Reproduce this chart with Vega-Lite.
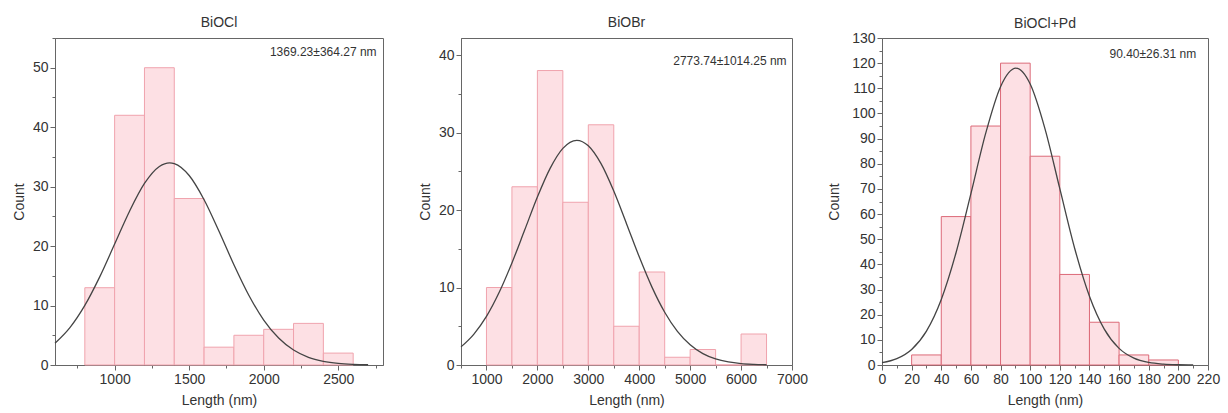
{
  "$schema": "https://vega.github.io/schema/vega-lite/v6.json",
  "padding": {"left": 11, "top": 15, "right": 2, "bottom": 2},
  "spacing": 33,
  "config": {
    "font": "Liberation Sans",
    "view": {"stroke": "#666", "strokeWidth": 1},
    "axis": {"labelFontSize": 14, "labelColor": "#333", "titleFontSize": 14, "titleFontWeight": "normal", "titleColor": "#333", "domainColor": "#666", "tickColor": "#666", "grid": false, "labelPadding": 2, "labelOverlap": false, "labelFlush": false, "format": "d", "tickSize": 5},
    "axisX": {"titlePadding": 7},
    "axisY": {"titlePadding": 6},
    "title": {"fontSize": 14, "fontWeight": "normal", "color": "#333", "offset": 8, "frame": "group"}
  },
  "datasets": {
    "bars1": [
      {"lo": 800, "hi": 1000, "count": 13}, {"lo": 1000, "hi": 1200, "count": 42}, {"lo": 1200, "hi": 1400, "count": 50},
      {"lo": 1400, "hi": 1600, "count": 28}, {"lo": 1600, "hi": 1800, "count": 3}, {"lo": 1800, "hi": 2000, "count": 5},
      {"lo": 2000, "hi": 2200, "count": 6}, {"lo": 2200, "hi": 2400, "count": 7}, {"lo": 2400, "hi": 2600, "count": 2}
    ],
    "curve1": [
      {"length": 600, "count": 3.65}, {"length": 700, "count": 6.28}, {"length": 800, "count": 10.02}, {"length": 900, "count": 14.82},
      {"length": 1000, "count": 20.34}, {"length": 1100, "count": 25.87}, {"length": 1200, "count": 30.53}, {"length": 1300, "count": 33.39},
      {"length": 1369, "count": 34.0}, {"length": 1400, "count": 33.88}, {"length": 1500, "count": 31.87}, {"length": 1600, "count": 27.8},
      {"length": 1700, "count": 22.49}, {"length": 1800, "count": 16.87}, {"length": 1900, "count": 11.74}, {"length": 2000, "count": 7.56},
      {"length": 2100, "count": 4.53}, {"length": 2200, "count": 2.51}, {"length": 2300, "count": 1.29}, {"length": 2400, "count": 0.62},
      {"length": 2500, "count": 0.27}, {"length": 2600, "count": 0.11}, {"length": 2700, "count": 0.04}
    ],
    "bars2": [
      {"lo": 1000, "hi": 1500, "count": 10}, {"lo": 1500, "hi": 2000, "count": 23}, {"lo": 2000, "hi": 2500, "count": 38},
      {"lo": 2500, "hi": 3000, "count": 21}, {"lo": 3000, "hi": 3500, "count": 31}, {"lo": 3500, "hi": 4000, "count": 5},
      {"lo": 4000, "hi": 4500, "count": 12}, {"lo": 4500, "hi": 5000, "count": 1}, {"lo": 5000, "hi": 5500, "count": 2},
      {"lo": 5500, "hi": 6000, "count": 0}, {"lo": 6000, "hi": 6500, "count": 4}
    ],
    "curve2": [
      {"length": 500, "count": 2.34}, {"length": 750, "count": 3.96}, {"length": 1000, "count": 6.27}, {"length": 1250, "count": 9.38},
      {"length": 1500, "count": 13.17}, {"length": 1750, "count": 17.41}, {"length": 2000, "count": 21.68}, {"length": 2250, "count": 25.38},
      {"length": 2500, "count": 27.96}, {"length": 2774, "count": 29.0}, {"length": 3000, "count": 28.29}, {"length": 3250, "count": 25.98},
      {"length": 3500, "count": 22.44}, {"length": 3750, "count": 18.24}, {"length": 4000, "count": 13.96}, {"length": 4250, "count": 10.05},
      {"length": 4500, "count": 6.81}, {"length": 4750, "count": 4.34}, {"length": 5000, "count": 2.61}, {"length": 5250, "count": 1.47},
      {"length": 5500, "count": 0.78}, {"length": 5750, "count": 0.39}, {"length": 6000, "count": 0.18}, {"length": 6250, "count": 0.08},
      {"length": 6500, "count": 0.03}
    ],
    "bars3": [
      {"lo": 20, "hi": 40, "count": 4}, {"lo": 40, "hi": 60, "count": 59}, {"lo": 60, "hi": 80, "count": 95},
      {"lo": 80, "hi": 100, "count": 120}, {"lo": 100, "hi": 120, "count": 83}, {"lo": 120, "hi": 140, "count": 36},
      {"lo": 140, "hi": 160, "count": 17}, {"lo": 160, "hi": 180, "count": 4}, {"lo": 180, "hi": 200, "count": 2}
    ],
    "curve3": [
      {"length": 0, "count": 0.92}, {"length": 10, "count": 2.53}, {"length": 20, "count": 6.2}, {"length": 30, "count": 13.49},
      {"length": 40, "count": 26.07}, {"length": 50, "count": 44.73}, {"length": 60, "count": 68.15}, {"length": 70, "count": 92.16},
      {"length": 80, "count": 110.65}, {"length": 90.4, "count": 118.0}, {"length": 100, "count": 111.7}, {"length": 110, "count": 93.9},
      {"length": 120, "count": 70.09}, {"length": 130, "count": 46.42}, {"length": 140, "count": 27.35}, {"length": 150, "count": 14.28},
      {"length": 160, "count": 6.62}, {"length": 170, "count": 2.73}, {"length": 180, "count": 1.0}, {"length": 190, "count": 0.32},
      {"length": 200, "count": 0.09}, {"length": 210, "count": 0.02}
    ]
  },
  "hconcat": [
    {
      "title": "BiOCl",
      "width": 328, "height": 327,
      "resolve": {"axis": {"x": "independent", "y": "independent"}},
      "layer": [
        {
          "data": {"name": "bars1"},
          "mark": {"type": "rect", "fill": "#fde0e4", "stroke": "#f0a3ad", "strokeWidth": 1},
          "encoding": {
            "x": {"field": "lo", "type": "quantitative", "scale": {"domain": [600, 2800], "nice": false, "zero": false},
                  "axis": {"title": "Length (nm)", "orient": "bottom", "values": [1000, 1500, 2000, 2500]}},
            "x2": {"field": "hi"},
            "y": {"field": "count", "type": "quantitative", "scale": {"domain": [0, 55], "nice": false},
                  "axis": {"title": "Count", "orient": "left", "values": [0, 10, 20, 30, 40, 50]}}
          }
        },
        {
          "data": {"name": "curve1"},
          "mark": {"type": "line", "color": "#444", "strokeWidth": 1.3, "interpolate": "monotone"},
          "encoding": {
            "x": {"field": "length", "type": "quantitative",
                  "axis": {"orient": "bottom", "title": null, "labels": false, "domain": false, "tickSize": 3, "values": [750, 1250, 1750, 2250, 2750]}},
            "y": {"field": "count", "type": "quantitative",
                  "axis": {"orient": "left", "title": null, "labels": false, "domain": false, "tickSize": 3, "values": [5, 15, 25, 35, 45, 55]}}
          }
        },
        {
          "data": {"values": [{"label": "1369.23±364.27 nm"}]},
          "mark": {"type": "text", "align": "right", "baseline": "middle", "fontSize": 12, "color": "#333"},
          "encoding": {
            "x": {"datum": 2757, "type": "quantitative", "axis": null},
            "y": {"datum": 52.7, "type": "quantitative", "axis": null},
            "text": {"field": "label"}
          }
        }
      ]
    },
    {
      "spacing": 18,
      "hconcat": [
        {
          "title": "BiOBr",
          "width": 331, "height": 327,
          "resolve": {"axis": {"x": "independent", "y": "independent"}},
          "layer": [
            {
              "data": {"name": "bars2"},
              "mark": {"type": "rect", "fill": "#fde0e4", "stroke": "#f0a3ad", "strokeWidth": 1},
              "encoding": {
                "x": {"field": "lo", "type": "quantitative", "scale": {"domain": [500, 7000], "nice": false, "zero": false},
                      "axis": {"title": "Length (nm)", "orient": "bottom", "values": [1000, 2000, 3000, 4000, 5000, 6000, 7000]}},
                "x2": {"field": "hi"},
                "y": {"field": "count", "type": "quantitative", "scale": {"domain": [0, 42.2], "nice": false},
                      "axis": {"title": "Count", "orient": "left", "values": [0, 10, 20, 30, 40]}}
              }
            },
            {
              "data": {"name": "curve2"},
              "mark": {"type": "line", "color": "#444", "strokeWidth": 1.3, "interpolate": "monotone"},
              "encoding": {
                "x": {"field": "length", "type": "quantitative",
                      "axis": {"orient": "bottom", "title": null, "labels": false, "domain": false, "tickSize": 3, "values": [500, 1500, 2500, 3500, 4500, 5500, 6500]}},
                "y": {"field": "count", "type": "quantitative",
                      "axis": {"orient": "left", "title": null, "labels": false, "domain": false, "tickSize": 3, "values": [5, 15, 25, 35]}}
              }
            },
            {
              "data": {"values": [{"label": "2773.74±1014.25 nm"}]},
              "mark": {"type": "text", "align": "right", "baseline": "middle", "fontSize": 12, "color": "#333"},
              "encoding": {
                "x": {"datum": 6894, "type": "quantitative", "axis": null},
                "y": {"datum": 39.2, "type": "quantitative", "axis": null},
                "text": {"field": "label"}
              }
            }
          ]
        },
        {
          "title": {"text": "BiOCl+Pd", "offset": 0},
          "width": 326, "height": 327,
          "resolve": {"axis": {"x": "independent", "y": "independent"}},
          "layer": [
            {
              "data": {"name": "bars3"},
              "mark": {"type": "rect", "fill": "#fde0e4", "stroke": "#dc6a78", "strokeWidth": 1},
              "encoding": {
                "x": {"field": "lo", "type": "quantitative", "scale": {"domain": [0, 220], "nice": false, "zero": false},
                      "axis": {"title": "Length (nm)", "orient": "bottom", "values": [0, 20, 40, 60, 80, 100, 120, 140, 160, 180, 200, 220]}},
                "x2": {"field": "hi"},
                "y": {"field": "count", "type": "quantitative", "scale": {"domain": [0, 130], "nice": false},
                      "axis": {"title": "Count", "orient": "left", "titlePadding": 10, "values": [0, 10, 20, 30, 40, 50, 60, 70, 80, 90, 100, 110, 120, 130]}}
              }
            },
            {
              "data": {"name": "curve3"},
              "mark": {"type": "line", "color": "#444", "strokeWidth": 1.3, "interpolate": "monotone"},
              "encoding": {
                "x": {"field": "length", "type": "quantitative",
                      "axis": {"orient": "bottom", "title": null, "labels": false, "domain": false, "tickSize": 3, "values": [10, 30, 50, 70, 90, 110, 130, 150, 170, 190, 210]}},
                "y": {"field": "count", "type": "quantitative",
                      "axis": {"orient": "left", "title": null, "labels": false, "domain": false, "tickSize": 3, "values": [5, 15, 25, 35, 45, 55, 65, 75, 85, 95, 105, 115, 125]}}
              }
            },
            {
              "data": {"values": [{"label": "90.40±26.31 nm"}]},
              "mark": {"type": "text", "align": "right", "baseline": "middle", "fontSize": 12, "color": "#333"},
              "encoding": {
                "x": {"datum": 212, "type": "quantitative", "axis": null},
                "y": {"datum": 123.5, "type": "quantitative", "axis": null},
                "text": {"field": "label"}
              }
            }
          ]
        }
      ]
    }
  ]
}
